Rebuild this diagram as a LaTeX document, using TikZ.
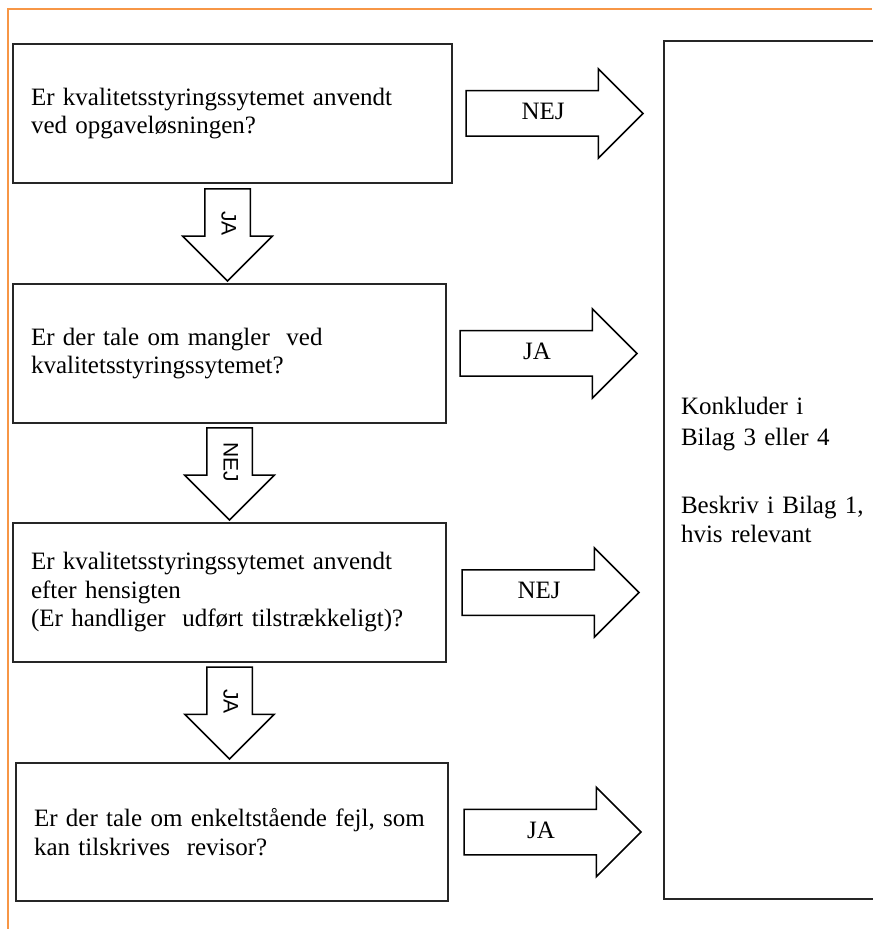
\documentclass[tikz,border=0pt]{standalone}
\usepackage{fontspec}
\setmainfont{Liberation Serif}
\newfontfamily\pilfont{Liberation Sans}
\usepackage{tikz}
\usetikzlibrary{positioning,calc,shapes.arrows}
\definecolor{rammeorange}{HTML}{F79646}
\tikzset{
    spm/.style={rectangle, draw=black!85, line width=1pt, text width=#1, inner xsep=9pt, inner ysep=0pt, minimum height=69.5pt, align=left, font=\fontsize{12.5}{14.25}\selectfont},
    konkl/.style={rectangle, draw=black!85, line width=1pt, text width=120pt, inner xsep=8.5pt, minimum height=429pt, align=left, font=\fontsize{12.5}{14.25}\selectfont},
    pil/.style={single arrow, draw=black, line width=0.75pt, single arrow head extend=11pt, minimum width=44pt, text height=8pt, text depth=2pt, inner ysep=6pt, outer sep=0pt, anchor=tail},
    pilH/.style={pil, minimum height=88.5pt, inner xsep=3pt, font=\fontsize{12.5}{14.25}\selectfont},
    pilN/.style={pil, rotate=-90, minimum height=46pt, inner xsep=1pt, font=\pilfont\fontsize{10.5}{12}\selectfont}
}

\begin{document}
\begin{tikzpicture}[x=0.5pt, y=-0.5pt]
    \useasboundingbox (0,0) rectangle (872,929);
    \draw[rammeorange, line width=1pt] (8,929) -- (8,9) -- (872,9);

    \node[spm=201.5pt, anchor=north west] (q1) at (12,43)
      {Er kvalitetsstyringssytemet anvendt\\
      ved opgaveløsningen?};
    \node[spm=198.5pt, below=49.5pt of q1.south west, anchor=north west] (q2)
      {Er der tale om mangler \ ved\\
      kvalitetsstyringssytemet?};
    \node[spm=198.5pt, below=49pt of q2.south west, anchor=north west] (q3)
      {Er kvalitetsstyringssytemet anvendt\\
      efter hensigten\\
      (Er handliger \ udført tilstrækkeligt)?};
    \node[spm=198pt, below=49.5pt of q3.south west, anchor=north west, xshift=1.5pt, minimum height=69pt] (q4)
      {Er der tale om enkeltstående fejl, som\\
      kan tilskrives \ revisor?};

    \node[konkl, anchor=north west] (konklusion) at (663,40)
      {Konkluder i\\[1pt]
      Bilag 3 eller 4\\[20pt]
      Beskriv i Bilag 1,\\
      hvis relevant};

    % pile ned
    \node[pilN] (ned1) at ($(q1.south)+(-5,5)$) {JA};
    \node[pilN] (ned2) at ($(q2.south)+(0,4)$) {NEJ};
    \node[pilN] (ned3) at ($(q3.south)+(0,4)$) {JA};

    % pile til hoejre
    \node[pilH] (hoejre1) at ($(q1.east)+(13,0)$) {NEJ};
    \node[pilH] (hoejre2) at ($(q2.east)+(13,0)$) {JA};
    \node[pilH] (hoejre3) at ($(q3.east)+(15,0)$) {NEJ};
    \node[pilH] (hoejre4) at ($(q4.east)+(15,0)$) {JA};
\end{tikzpicture}
\end{document}
